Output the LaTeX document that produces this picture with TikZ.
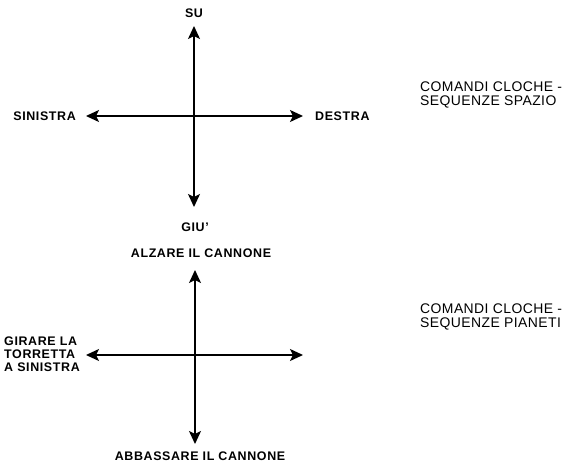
\documentclass[tikz,border=0pt]{standalone}
\usepackage{fontspec}
\setmainfont{Liberation Sans}
\usetikzlibrary{arrows.meta, positioning}

\tikzset{
  axis/.style={line width=1.5bp, {Stealth[length=13bp,width=12bp,inset=3bp]}-{Stealth[length=13bp,width=12bp,inset=3bp]}},
  lbl/.style={inner sep=0pt, align=left, font=\bfseries\fontsize{12.5}{13}\selectfont\addfontfeature{LetterSpace=5}},
  cmd/.style={inner sep=0pt, align=left, font=\fontsize{14}{14.5}\selectfont\addfontfeature{LetterSpace=3}}
}

\begin{document}
\begin{tikzpicture}[x=1bp,y=-1bp]
            \useasboundingbox (0,0) rectangle (573,462);
            % spazio
            \coordinate (suA) at (194,26);
            \coordinate (giuA) at (194,207);
            \coordinate (sxA) at (86,116);
            \coordinate (dxA) at (303,116);
            \draw[axis] (suA) -- (giuA);
            \draw[axis] (sxA) -- (dxA);
            \node (su) at (194,13)[lbl]{SU};
            \node (giu) at (195,227)[lbl]{GIU'};
            \node (sinistra) at (76,116)[lbl,anchor=east]{SINISTRA};
            \node (destra) at (315,116)[lbl,anchor=west]{DESTRA};
            \node (spazio) at (420,95)[cmd,anchor=west]{COMANDI CLOCHE -\\SEQUENZE SPAZIO};
            % pianeti
            \coordinate (suB) at (195,270);
            \coordinate (giuB) at (195,444);
            \coordinate (sxB) at (86,355);
            \coordinate (dxB) at (303,355);
            \draw[axis] (suB) -- (giuB);
            \draw[axis] (sxB) -- (dxB);
            \node (alzare) at (201,253)[lbl]{ALZARE IL CANNONE};
            \node (abbassare) at (200,456)[lbl]{ABBASSARE IL CANNONE};
            \node (torretta) at (4,354)[lbl,anchor=west]{GIRARE LA\\TORRETTA\\A SINISTRA};
            \node (pianeti) at (420,317)[cmd,anchor=west]{COMANDI CLOCHE -\\SEQUENZE PIANETI};
\end{tikzpicture}
\end{document}
